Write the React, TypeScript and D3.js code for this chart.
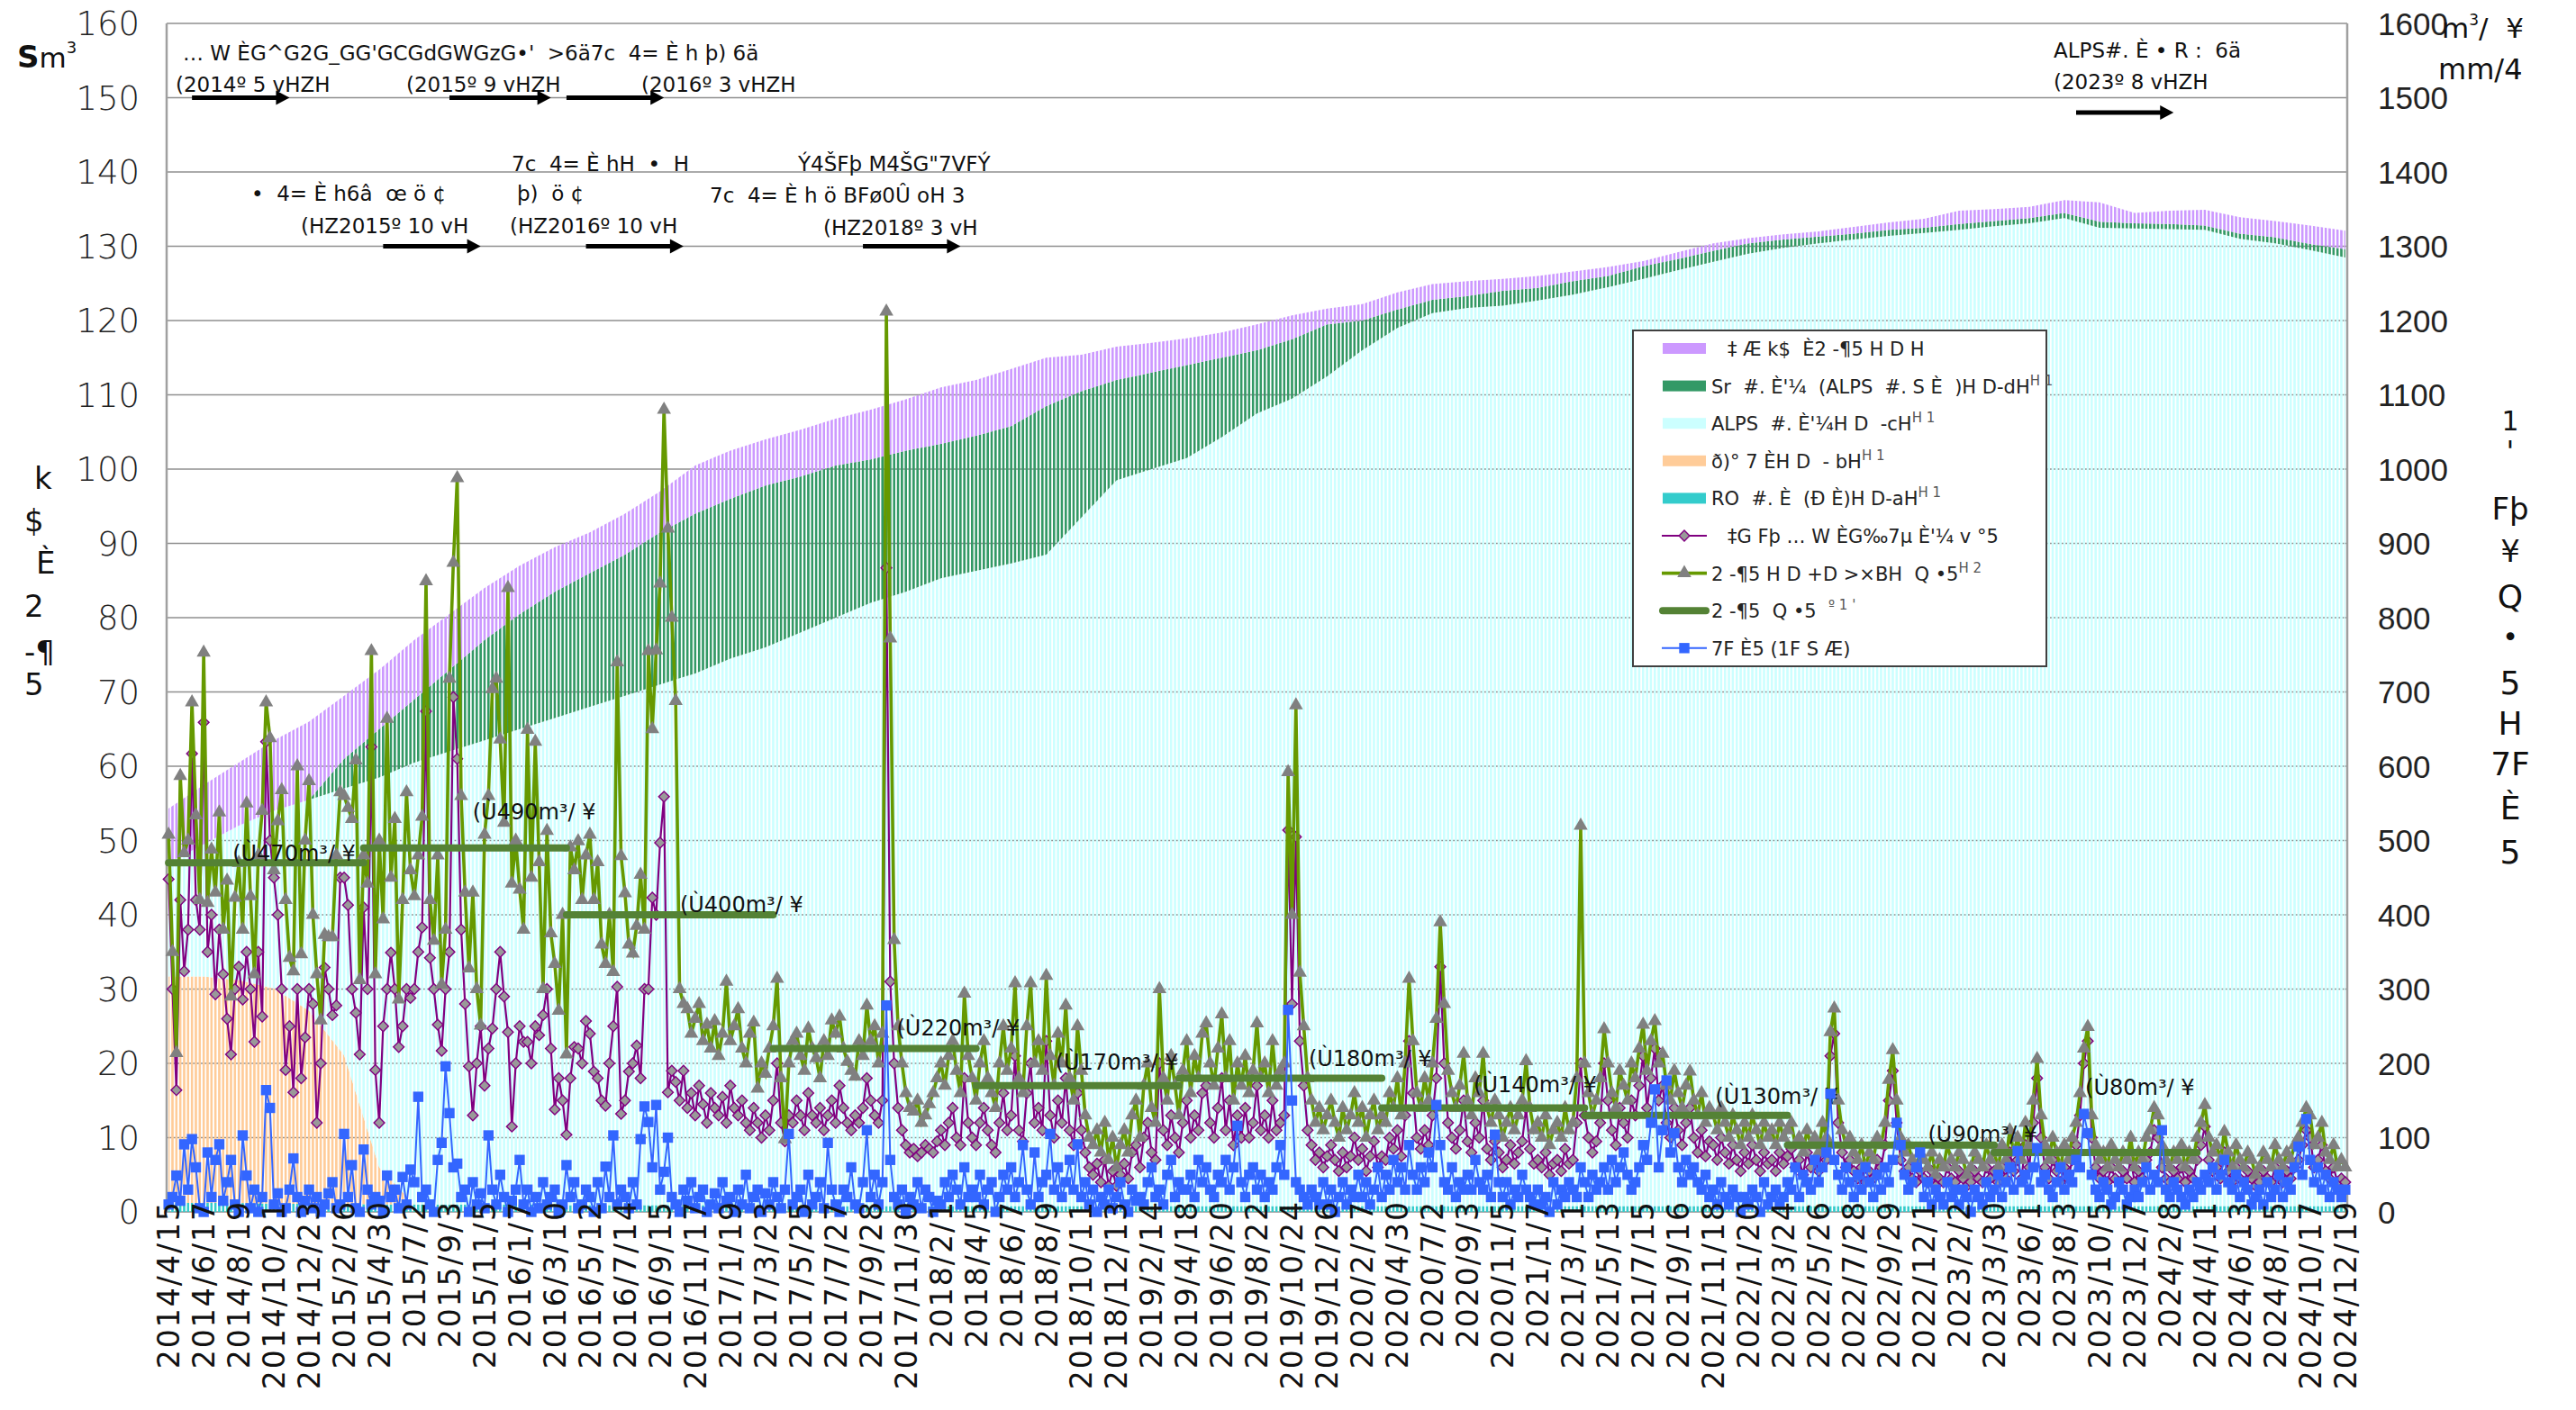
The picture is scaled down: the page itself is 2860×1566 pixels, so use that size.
import React, { useEffect, useRef } from 'react';
import * as d3 from 'd3';

// weekly categories, one axis label every 9 weeks
const tickLabels = [
  '2014/4/15', '2014/6/17', '2014/8/19', '2014/10/21', '2014/12/23', '2015/2/26', '2015/4/30', '2015/7/2',
  '2015/9/3', '2015/11/5', '2016/1/7', '2016/3/10', '2016/5/12', '2016/7/14', '2016/9/15', '2016/11/17',
  '2017/1/19', '2017/3/23', '2017/5/25', '2017/7/27', '2017/9/28', '2017/11/30', '2018/2/1', '2018/4/5',
  '2018/6/7', '2018/8/9', '2018/10/11', '2018/12/13', '2019/2/14', '2019/4/18', '2019/6/20', '2019/8/22',
  '2019/10/24', '2019/12/26', '2020/2/27', '2020/4/30', '2020/7/2', '2020/9/3', '2020/11/5', '2021/1/7',
  '2021/3/11', '2021/5/13', '2021/7/15', '2021/9/16', '2021/11/18', '2022/1/20', '2022/3/24', '2022/5/26',
  '2022/7/28', '2022/9/29', '2022/12/1', '2023/2/2', '2023/3/30', '2023/6/1', '2023/8/3', '2023/10/5',
  '2023/12/7', '2024/2/8', '2024/4/11', '2024/6/13', '2024/8/15', '2024/10/17', '2024/12/19',
];

// weekly, m3/day (right axis) - triangles
const generation = [
  508, 350, 214, 587, 483, 500, 686, 534, 420, 753, 416, 488, 430, 538, 380, 446, 290, 423,
  470, 380, 550, 425, 320, 480, 540, 686, 638, 460, 526, 568, 420, 342, 324, 600, 347, 500,
  580, 400, 320, 258, 373, 370, 370, 480, 565, 560, 544, 529, 608, 312, 480, 442, 755, 320,
  500, 394, 664, 450, 529, 286, 420, 565, 460, 425, 480, 532, 849, 420, 365, 480, 306, 380,
  718, 874, 988, 560, 430, 328, 430, 300, 251, 508, 560, 704, 718, 636, 524, 840, 442, 500,
  434, 380, 649, 450, 633, 471, 300, 513, 375, 334, 271, 400, 212, 491, 460, 499, 420, 480,
  508, 420, 471, 360, 334, 400, 323, 740, 479, 429, 360, 348, 385, 454, 380, 755, 650, 756,
  846, 1080, 920, 800, 688, 300, 280, 273, 240, 260, 280, 230, 252, 220, 257, 210, 240, 310,
  230, 250, 273, 220, 200, 240, 255, 166, 200, 186, 220, 250, 314, 180, 98, 200, 230, 240,
  210, 190, 247, 220, 207, 180, 230, 210, 258, 240, 263, 220, 202, 190, 182, 230, 210, 278,
  230, 250, 200, 240, 1212, 772, 366, 250, 200, 160, 140, 135, 150, 120, 130, 145, 160, 180,
  200, 170, 210, 230, 190, 160, 294, 210, 180, 150, 200, 230, 180, 160, 140, 200, 250, 190,
  220, 308, 180, 160, 250, 308, 200, 230, 190, 318, 210, 170, 240, 200, 278, 180, 150, 250,
  190, 130, 100, 90, 110, 80, 120, 70, 100, 60, 90, 110, 80, 130, 150, 100, 170, 200,
  140, 120, 300, 180, 150, 210, 170, 130, 190, 230, 160, 210, 180, 240, 254, 200, 170, 220,
  266, 180, 230, 150, 200, 170, 210, 160, 190, 254, 180, 200, 160, 230, 170, 190, 200, 592,
  400, 682, 322, 250, 180, 150, 120, 140, 110, 130, 150, 120, 100, 140, 110, 130, 160, 120,
  140, 100, 130, 150, 110, 130, 120, 160, 140, 180, 130, 200, 314, 230, 160, 140, 180, 150,
  200, 260, 390, 280, 190, 160, 140, 170, 213, 150, 130, 180, 160, 213, 140, 120, 150, 130,
  100, 120, 140, 110, 130, 150, 203, 140, 110, 120, 100, 130, 90, 110, 120, 100, 140, 110,
  120, 180, 520, 200, 160, 130, 150, 180, 246, 200, 160, 140, 190, 170, 150, 200, 180, 220,
  252, 190, 230, 257, 200, 213, 170, 150, 190, 160, 140, 170, 189, 150, 130, 160, 120, 140,
  130, 110, 140, 120, 100, 130, 110, 90, 120, 100, 130, 110, 90, 120, 100, 110, 90, 120,
  100, 110, 120, 90, 100, 80, 110, 90, 100, 80, 120, 100, 242, 274, 150, 110, 90, 100,
  80, 70, 90, 60, 80, 70, 100, 90, 120, 178, 218, 150, 100, 80, 90, 70, 60, 80,
  70, 60, 80, 50, 70, 60, 90, 70, 60, 80, 70, 50, 60, 80, 70, 60, 90, 70,
  80, 60, 90, 70, 110, 80, 100, 70, 120, 90, 150, 206, 130, 90, 70, 100, 80, 60,
  90, 70, 100, 120, 160, 220, 249, 130, 90, 70, 80, 60, 90, 70, 60, 80, 70, 100,
  60, 80, 70, 100, 110, 140, 130, 90, 70, 60, 80, 70, 90, 60, 80, 70, 100, 120,
  144, 100, 80, 90, 70, 108, 80, 60, 90, 70, 60, 80, 70, 50, 60, 80, 70, 60,
  90, 70, 60, 80, 70, 90, 100, 120, 140, 130, 90, 100, 120, 80, 70, 90, 60, 70,
  60,
];

// weekly, m3/day (right axis) - diamonds
const inflow = [
  448, 300, 164, 420, 324, 380, 617, 420, 380, 659, 350, 400, 293, 380, 320, 260, 212, 300,
  330, 286, 350, 300, 229, 350, 263, 633, 500, 450, 400, 300, 191, 250, 161, 300, 180, 235,
  300, 280, 120, 200, 329, 300, 265, 278, 450, 450, 413, 300, 268, 212, 410, 300, 626, 191,
  120, 250, 300, 349, 300, 222, 250, 300, 288, 300, 350, 383, 674, 342, 300, 252, 217, 300,
  350, 693, 610, 380, 280, 196, 130, 200, 250, 170, 220, 247, 300, 350, 290, 242, 115, 200,
  250, 229, 229, 200, 250, 238, 265, 300, 220, 138, 180, 150, 104, 180, 222, 220, 200, 257,
  240, 189, 180, 150, 143, 200, 250, 303, 132, 150, 189, 200, 224, 180, 300, 300, 423, 400,
  497, 559, 161, 190, 175, 150, 190, 140, 160, 130, 170, 145, 120, 160, 140, 130, 155, 120,
  170, 140, 130, 150, 120, 110, 140, 120, 100, 130, 110, 150, 200, 120, 95, 130, 120, 150,
  130, 110, 160, 130, 120, 140, 110, 130, 150, 120, 170, 140, 120, 110, 130, 120, 140, 180,
  150, 130, 120, 150, 867, 310, 200, 140, 110, 90, 80, 85, 75, 80, 90, 85, 80, 95,
  110, 90, 120, 140, 100, 90, 180, 120, 100, 90, 120, 140, 110, 90, 80, 120, 160, 110,
  130, 210, 110, 95, 160, 200, 120, 140, 110, 230, 130, 100, 150, 120, 180, 110, 90, 160,
  110, 80, 60, 50, 65, 40, 70, 35, 55, 35, 50, 65, 45, 80, 90, 60, 100, 120,
  80, 70, 200, 110, 90, 130, 100, 80, 120, 150, 100, 130, 110, 160, 170, 120, 100, 140,
  180, 110, 150, 90, 130, 100, 140, 100, 120, 170, 110, 130, 100, 150, 110, 120, 130, 514,
  280, 505, 230, 170, 110, 90, 70, 80, 60, 75, 90, 70, 55, 80, 60, 75, 100, 70,
  85, 55, 75, 95, 60, 75, 70, 100, 85, 110, 75, 130, 230, 160, 100, 85, 110, 90,
  130, 180, 330, 200, 120, 100, 85, 110, 150, 95, 80, 120, 100, 150, 85, 70, 95, 80,
  60, 70, 90, 65, 80, 95, 140, 85, 65, 70, 60, 80, 50, 65, 70, 55, 85, 65,
  70, 120, 200, 130, 100, 80, 95, 120, 200, 150, 110, 90, 140, 120, 100, 150, 130, 170,
  210, 140, 180, 220, 150, 170, 120, 100, 140, 110, 90, 120, 140, 100, 80, 110, 75, 95,
  90, 70, 100, 80, 65, 90, 70, 55, 80, 65, 90, 70, 55, 80, 65, 70, 55, 80,
  65, 75, 85, 60, 70, 50, 80, 60, 70, 55, 90, 70, 210, 240, 120, 80, 60, 70,
  55, 45, 60, 40, 55, 45, 70, 60, 90, 150, 190, 120, 70, 55, 60, 45, 40, 55,
  45, 40, 55, 35, 45, 40, 60, 45, 40, 55, 45, 35, 40, 55, 45, 40, 60, 45,
  55, 40, 60, 45, 80, 55, 70, 45, 90, 60, 120, 180, 100, 60, 45, 70, 55, 40,
  60, 45, 70, 90, 130, 200, 230, 100, 60, 45, 55, 40, 60, 45, 40, 55, 45, 70,
  40, 55, 45, 70, 80, 110, 100, 60, 45, 40, 55, 45, 60, 40, 55, 45, 70, 90,
  115, 70, 55, 60, 45, 80, 55, 40, 60, 45, 40, 55, 45, 35, 40, 55, 45, 40,
  60, 45, 40, 55, 45, 60, 70, 90, 110, 100, 60, 70, 90, 55, 45, 60, 40, 45,
  40,
];

// weekly, mm/week (right axis) - squares
const rainfall = [
  10, 20, 49, 15, 91, 30, 98, 60, 5, 0, 80, 20, 70, 91, 15, 40, 70, 10,
  0, 103, 49, 5, 30, 0, 20, 164, 140, 10, 25, 0, 5, 30, 72, 20, 0, 15,
  30, 5, 20, 0, 10, 25, 40, 5, 10, 105, 20, 63, 5, 0, 84, 30, 10, 20,
  15, 0, 49, 20, 30, 5, 47, 10, 57, 40, 155, 20, 30, 10, 0, 70, 93, 196,
  133, 60, 65, 20, 30, 0, 40, 10, 25, 5, 103, 30, 10, 50, 20, 0, 15, 30,
  70, 10, 30, 0, 20, 5, 40, 10, 20, 30, 0, 10, 63, 20, 40, 5, 10, 30,
  20, 0, 40, 5, 61, 20, 103, 10, 30, 20, 5, 40, 10, 98, 142, 121, 60, 144,
  30, 54, 100, 20, 10, 0, 30, 15, 40, 5, 20, 30, 0, 10, 25, 5, 40, 15,
  20, 0, 30, 10, 50, 5, 20, 30, 0, 25, 10, 40, 20, 5, 30, 105, 10, 20,
  30, 0, 50, 10, 20, 40, 5, 93, 30, 10, 0, 30, 20, 60, 10, 5, 40, 110,
  20, 50, 10, 40, 278, 70, 20, 10, 30, 0, 20, 10, 40, 5, 30, 20, 0, 15,
  10, 40, 20, 50, 30, 10, 60, 20, 30, 20, 50, 10, 30, 40, 0, 20, 50, 30,
  60, 20, 40, 90, 30, 10, 80, 20, 40, 50, 105, 30, 60, 20, 40, 70, 30, 91,
  20, 40, 10, 30, 0, 20, 10, 30, 5, 20, 40, 10, 0, 30, 15, 20, 10, 40,
  60, 20, 30, 10, 50, 70, 20, 40, 30, 30, 50, 20, 70, 40, 60, 30, 20, 50,
  40, 70, 30, 60, 116, 40, 20, 50, 60, 30, 50, 20, 40, 30, 60, 90, 50, 272,
  150, 40, 30, 20, 10, 30, 20, 10, 40, 10, 30, 0, 20, 40, 10, 30, 20, 50,
  20, 40, 10, 30, 60, 20, 50, 30, 70, 40, 60, 30, 90, 50, 30, 60, 40, 80,
  60, 144, 90, 40, 30, 60, 20, 40, 30, 50, 30, 70, 40, 30, 50, 20, 104, 40,
  20, 40, 10, 30, 20, 50, 30, 20, 10, 30, 10, 20, 0, 40, 10, 30, 20, 40,
  30, 20, 60, 40, 20, 50, 30, 40, 60, 30, 70, 40, 60, 80, 50, 30, 40, 60,
  90, 70, 120, 165, 60, 110, 177, 80, 106, 60, 40, 70, 50, 60, 40, 30, 50, 20,
  30, 10, 40, 20, 10, 30, 20, 0, 20, 10, 30, 20, 0, 40, 10, 20, 30, 10,
  20, 40, 30, 60, 20, 50, 40, 30, 70, 40, 60, 80, 159, 70, 50, 30, 60, 40,
  20, 50, 30, 60, 40, 20, 50, 30, 60, 40, 70, 120, 90, 50, 30, 40, 60, 80,
  20, 40, 10, 30, 20, 10, 40, 20, 30, 10, 30, 20, 0, 30, 20, 10, 40, 20,
  30, 50, 20, 40, 60, 30, 82, 40, 50, 30, 60, 86, 40, 50, 30, 20, 40, 60,
  30, 50, 40, 70, 60, 132, 106, 50, 30, 20, 40, 30, 10, 20, 40, 30, 10, 20,
  30, 20, 40, 60, 30, 50, 40, 110, 30, 20, 40, 30, 20, 10, 30, 20, 40, 30,
  50, 40, 60, 30, 50, 70, 40, 30, 50, 20, 40, 30, 10, 20, 30, 10, 40, 20,
  30, 50, 20, 40, 30, 60, 88, 50, 125, 70, 40, 60, 30, 50, 20, 40, 30, 20,
  30,
];

// tank storage, 10^4 m3 (left axis), one value at each labelled date
const roStock = [
  1.2, 1.2, 1.2, 1.1, 1.1, 1.1, 1.0, 1.0, 1.0, 1.0, 1.0, 0.9, 0.9, 0.9, 0.9, 0.9,
  0.9, 0.9, 0.8, 0.8, 0.8, 0.8, 0.8, 0.8, 0.8, 0.8, 0.8, 0.8, 0.8, 0.8, 0.8, 0.8,
  0.8, 0.8, 0.8, 0.8, 0.8, 0.8, 0.8, 0.8, 0.8, 0.8, 0.8, 0.8, 0.8, 0.8, 0.8, 0.8,
  0.8, 0.8, 0.8, 0.8, 0.8, 0.8, 0.8, 0.8, 0.8, 0.8, 0.8, 0.8, 0.8, 0.8, 0.8,
];
const brineStock = [
  30.5, 30.5, 30, 29, 26, 20, 5, 0, 0, 0, 0, 0, 0, 0, 0, 0,
  0, 0, 0, 0, 0, 0, 0, 0, 0, 0, 0, 0, 0, 0, 0, 0,
  0, 0, 0, 0, 0, 0, 0, 0, 0, 0, 0, 0, 0, 0, 0, 0,
  0, 0, 0, 0, 0, 0, 0, 0, 0, 0, 0, 0, 0, 0, 0,
];
const alpsStock = [
  15.3, 17.8, 20.8, 23.9, 28.4, 35.9, 52.5, 59.5, 61.0, 62.5, 64.0, 65.6, 67.1, 68.6, 70.1, 71.6,
  73.6, 75.1, 77.2, 79.2, 81.2, 82.7, 84.5, 85.5, 86.5, 87.7, 92.7, 97.7, 99.2, 100.7, 103.5, 106.7,
  108.7, 111.7, 115.2, 118.2, 120.2, 120.9, 121.2, 121.9, 122.7, 123.7, 124.8, 126, 127.1, 128.2, 129, 129.6,
  130.1, 130.6, 131, 131.4, 131.9, 132.3, 133, 131.7, 131.6, 131.5, 131.4, 130.2, 129.6, 128.7, 127.7,
];
const srStock = [
  0, 0, 0, 0, 0, 4, 6.5, 8.5, 11, 13.5, 15.5, 17, 18, 19, 20.5, 21.5,
  21.5, 21.8, 21, 20.5, 19.3, 19, 18.1, 18.2, 18.5, 20, 17, 13.5, 13, 12.5, 10.7, 8.5,
  8, 7, 4, 2.5, 1.8, 1.6, 2, 1.7, 1.8, 1.5, 1.7, 1.5, 1.5, 1.4, 1.1, 0.9,
  0.8, 0.8, 0.7, 0.8, 0.7, 0.7, 0.7, 0.8, 0.7, 0.7, 0.6, 0.7, 0.8, 0.8, 1.1,
];
const otherStock = [
  7.3, 8, 8.5, 9.5, 10.5, 8.5, 8, 8, 7.5, 7, 6.5, 6, 5.5, 5.5, 5.5, 6.5,
  6.5, 6.2, 6.3, 6.3, 6.7, 6.9, 7.6, 7.5, 7.7, 6.5, 4.9, 4.5, 4, 3.6, 3.4, 3.5,
  3.2, 2.1, 2.2, 2.3, 2.1, 2, 1.6, 1.6, 1.3, 1.2, 0.7, 0.9, 1, 0.7, 0.7, 0.7,
  0.9, 1, 1.2, 1.8, 1.6, 1.5, 1.7, 2.6, 1.4, 1.8, 2.1, 2.2, 2.2, 2.5, 2.5,
];

// fiscal-year averages (week index range), m3/day
const fyFrom = [0, 50, 102, 155, 207, 259, 311, 363, 415, 468];
const fyTo = [50, 102, 155, 207, 259, 311, 363, 415, 468, 520];
const fyAvg = [470, 490, 400, 220, 170, 180, 140, 130, 90, 80];

const legendLabels = [
  ['‡ Æ k$  È2 -¶5 H D H', ''],
  ["Sr  #. È'¼  (ALPS  #. S È  )H D-dH", 'H 1'],
  ["ALPS  #. È'¼H D  -cH", 'H 1'],
  ['ð)° 7 ÈH D  - bH', 'H 1'],
  ['RO  #. È  (Ð È)H D-aH', 'H 1'],
  ["‡G Fþ … W ÈG‰7µ È'¼ v °5", ''],
  ['2 -¶5 H D +D >×BH  Q •5', 'H 2'],
  ['2 -¶5  Q •5  ', "º 1 '"],
  ['7F È5 (1F S Æ)', ''],
];

const FONT = 'DejaVu Sans, Verdana, sans-serif';

export default function App() {
  const svgRef = useRef<SVGSVGElement>(null);

  useEffect(() => {
    const svg = d3.select(svgRef.current);
    svg.selectAll('*').remove();

    const left = 185, right = 2606, top = 26, bottom = 1346;
    const n = generation.length;
    const x = d3.scaleBand<number>().domain(d3.range(n)).range([left, right]);
    const bw = x.bandwidth();
    const cx = (i: number) => (x(i) as number) + bw / 2;
    const yL = d3.scaleLinear().domain([0, 160]).range([bottom, top]);
    const yR = d3.scaleLinear().domain([0, 1600]).range([bottom, top]);

    svg.append('rect').attr('width', 2860).attr('height', 1566).attr('fill', '#fff');

    // grid lines
    svg.append('g')
      .selectAll('line')
      .data(yL.ticks(16))
      .join('line')
      .attr('x1', left).attr('x2', right)
      .attr('y1', d => yL(d)).attr('y2', d => yL(d))
      .attr('stroke', '#8f8f8f').attr('stroke-width', 1.6);

    // stacked storage (thin weekly bars -> striped fill)
    const keys = ['ro', 'brine', 'alps', 'sr', 'other'];
    const colors: Record<string, string> = {
      ro: '#33CCCC', brine: '#FFCC99', alps: '#CCFFFF', sr: '#339966', other: '#CC99FF',
    };
    const rows = tickLabels.map((_, s) => ({
      ro: roStock[s], brine: brineStock[s], alps: alpsStock[s], sr: srStock[s], other: otherStock[s],
    }));
    const layers = d3.stack<any>().keys(keys)(rows);
    const defs = svg.append('defs');
    keys.forEach(k => {
      const p = defs.append('pattern')
        .attr('id', 'pat-' + k)
        .attr('patternUnits', 'userSpaceOnUse')
        .attr('x', left + bw * 0.2).attr('y', 0)
        .attr('width', bw).attr('height', 20);
      p.append('rect').attr('width', bw * 0.6).attr('height', 20).attr('fill', colors[k]);
    });
    const stockArea = d3.area<any>()
      .x((_, s) => cx(s * 9))
      .y0(d => yL(d[0]))
      .y1(d => yL(d[1]));
    svg.append('g')
      .selectAll('path')
      .data(layers)
      .join('path')
      .attr('d', d => stockArea(d as any))
      .attr('fill', d => `url(#pat-${d.key})`);

    // frame
    svg.append('line').attr('x1', left).attr('x2', left).attr('y1', top).attr('y2', bottom)
      .attr('stroke', '#a0a0a0').attr('stroke-width', 2.5);
    svg.append('line').attr('x1', right).attr('x2', right).attr('y1', top).attr('y2', bottom)
      .attr('stroke', '#a0a0a0').attr('stroke-width', 2.5);

    const lineR = d3.line<number>().x((_, i) => cx(i)).y(d => yR(d));

    // inflow: purple line with grey diamonds
    svg.append('path').attr('d', lineR(inflow)).attr('fill', 'none')
      .attr('stroke', '#800080').attr('stroke-width', 2.2);
    const diamond = d3.symbol().type(d3.symbolSquare).size(70)();
    svg.append('g').selectAll('path').data(inflow).join('path')
      .attr('d', diamond)
      .attr('transform', (d, i) => `translate(${cx(i)},${yR(d)}) rotate(45)`)
      .attr('fill', '#999999').attr('stroke', '#800080').attr('stroke-width', 1.4);

    // generation: green line with grey triangles
    svg.append('path').attr('d', lineR(generation)).attr('fill', 'none')
      .attr('stroke', '#669900').attr('stroke-width', 3.6);
    const tri = d3.symbol().type(d3.symbolTriangle).size(105)();
    svg.append('g').selectAll('path').data(generation).join('path')
      .attr('d', tri)
      .attr('transform', (d, i) => `translate(${cx(i)},${yR(d)})`)
      .attr('fill', '#808080');

    // fiscal-year averages
    const avgLine = d3.line<number[]>().x(d => cx(d[0])).y(d => yR(d[1]));
    svg.append('g').selectAll('path').data(fyAvg).join('path')
      .attr('d', (v, i) => avgLine([[fyFrom[i], v], [fyTo[i], v]]))
      .attr('stroke', '#548235').attr('stroke-width', 8).attr('stroke-linecap', 'round').attr('fill', 'none');
    const avgLabelOffset = [[71, -2], [121, -32], [126, -3], [137, -15], [88, -18],
      [144, -14], [102, -18], [145, -13], [156, -4], [101, -64]];
    svg.append('g').selectAll('text').data(fyAvg).join('text')
      .attr('x', (v, i) => cx(fyFrom[i]) + avgLabelOffset[i][0])
      .attr('y', (v, i) => yR(v) + avgLabelOffset[i][1])
      .attr('font-family', FONT).attr('font-size', 24).attr('fill', '#111')
      .style('white-space', 'pre')
      .text(v => `(Ù${v}m³/ ¥`);

    // rainfall: blue line with squares
    svg.append('path').attr('d', lineR(rainfall)).attr('fill', 'none')
      .attr('stroke', '#3366FF').attr('stroke-width', 2);
    const sq = d3.symbol().type(d3.symbolSquare).size(130)();
    svg.append('g').selectAll('path').data(rainfall).join('path')
      .attr('d', sq)
      .attr('transform', (d, i) => `translate(${cx(i)},${yR(d)})`)
      .attr('fill', '#3366FF');

    // left axis labels
    svg.append('g').selectAll('text').data(yL.ticks(16)).join('text')
      .attr('x', 155).attr('y', d => yL(d)).attr('dy', '0.36em')
      .attr('text-anchor', 'end').attr('font-family', FONT).attr('font-size', 37)
      .attr('font-weight', 300).attr('fill', '#222')
      .text(d => d);
    // right axis labels
    svg.append('g').selectAll('text').data(yR.ticks(16)).join('text')
      .attr('x', 2640).attr('y', d => yR(d)).attr('dy', '0.36em')
      .attr('font-family', 'Liberation Sans, Arial, sans-serif').attr('font-size', 35)
      .attr('fill', '#222')
      .text(d => d);

    // category labels
    svg.append('g').selectAll('text').data(tickLabels).join('text')
      .attr('transform', (d, k) => `translate(${cx(k * 9)},1333) rotate(-90)`)
      .attr('dy', '0.36em').attr('text-anchor', 'end')
      .attr('font-family', FONT).attr('font-size', 33).attr('letter-spacing', 2)
      .attr('fill', '#111')
      .text(d => d);

    // axis titles
    const t1 = svg.append('text').attr('x', 19).attr('y', 75).attr('font-family', FONT).attr('fill', '#111');
    t1.append('tspan').attr('font-size', 34).attr('font-weight', 'bold').text('S');
    t1.append('tspan').attr('font-size', 31).text('m');
    t1.append('tspan').attr('font-size', 18).attr('dy', -16).text('3');

    const t2 = svg.append('text').attr('x', 2711).attr('y', 42).attr('font-family', FONT).attr('fill', '#111');
    t2.append('tspan').attr('font-size', 31).text('m');
    t2.append('tspan').attr('font-size', 17).attr('dy', -14).text('3');
    t2.append('tspan').attr('font-size', 31).attr('dy', 14).style('white-space', 'pre').text('/  ¥');
    svg.append('text').attr('x', 2707).attr('y', 88).attr('font-family', FONT).attr('font-size', 32)
      .attr('fill', '#111').text('mm/4');

    const leftTitle = [['k', 38, 543], ['$', 27, 590], ['È', 40, 637], ['2', 27, 685], ['-¶', 27, 736], ['5', 27, 772]];
    svg.append('g').selectAll('text').data(leftTitle).join('text')
      .attr('x', d => d[1] as number).attr('y', d => d[2] as number)
      .attr('font-family', FONT).attr('font-size', 34).attr('fill', '#111')
      .text(d => d[0] as string);
    const rightTitle = [['1', 478, 30], ["'", 512, 32], ['Fþ', 577, 34], ['¥', 624, 34], ['Q', 675, 36],
      ['•', 718, 30], ['5', 771, 36], ['H', 816, 36], ['7F', 861, 36], ['È', 910, 36], ['5', 959, 36]];
    svg.append('g').selectAll('text').data(rightTitle).join('text')
      .attr('x', 2787).attr('y', d => d[1] as number).attr('text-anchor', 'middle')
      .attr('font-family', FONT).attr('font-size', d => d[2] as number).attr('fill', '#111')
      .text(d => d[0] as string);

    // annotations
    const notes: [string, number, number][] = [
      ["… W ÈG^G2G_GG'GCGdGWGzG•'  >6ä7c  4= È h þ) 6ä", 203, 67],
      ['(2014º 5 vHZH', 195, 102],
      ['(2015º 9 vHZH', 451, 102],
      ['(2016º 3 vHZH', 712, 102],
      ['7c  4= È hH  •  H', 568, 190],
      ['Ý4ŠFþ M4ŠG"7VFÝ', 886, 190],
      ['•  4= È h6â  œ ö ¢', 279, 223],
      ['þ)  ö ¢', 574, 223],
      ['7c  4= È h ö BFø0Û oH 3', 788, 225],
      ['(HZ2015º 10 vH', 334, 259],
      ['(HZ2016º 10 vH', 566, 259],
      ['(HZ2018º 3 vH', 914, 261],
      ['ALPS#. È • R :  6ä', 2280, 64],
      ['(2023º 8 vHZH', 2280, 99],
    ];
    svg.append('g').selectAll('text').data(notes).join('text')
      .attr('x', d => d[1]).attr('y', d => d[2])
      .attr('font-family', FONT).attr('font-size', 23).attr('fill', '#111')
      .style('white-space', 'pre')
      .text(d => d[0]);

    const arrows: [number, number, number][] = [
      [6, 31, 150], [72, 98, 150], [102, 127, 150],
      [55, 80, 130], [107, 132, 130], [178, 203, 130], [489, 514, 148],
    ];
    const ag = svg.append('g');
    arrows.forEach(([a, b, v]) => {
      const x1 = cx(a), x2 = cx(b), yy = yL(v);
      ag.append('line').attr('x1', x1).attr('x2', x2 - 12).attr('y1', yy).attr('y2', yy)
        .attr('stroke', '#000').attr('stroke-width', 5);
      ag.append('path').attr('d', `M${x2},${yy} L${x2 - 15},${yy - 8} L${x2 - 15},${yy + 8} Z`).attr('fill', '#000');
    });

    // legend
    const lg = svg.append('g');
    lg.append('rect').attr('x', 1813).attr('y', 367).attr('width', 459).attr('height', 373)
      .attr('fill', '#fff').attr('stroke', '#404040').attr('stroke-width', 2);
    const rowY = (i: number) => 387 + i * 41.6;
    ['other', 'sr', 'alps', 'brine', 'ro'].forEach((k, i) => {
      lg.append('rect').attr('x', 1846).attr('y', rowY(i) - 6).attr('width', 48).attr('height', 12)
        .attr('fill', colors[k]);
    });
    lg.append('line').attr('x1', 1845).attr('x2', 1895).attr('y1', rowY(5)).attr('y2', rowY(5))
      .attr('stroke', '#800080').attr('stroke-width', 2.2);
    lg.append('path').attr('d', diamond).attr('transform', `translate(1870,${rowY(5)}) rotate(45)`)
      .attr('fill', '#999').attr('stroke', '#800080').attr('stroke-width', 1.4);
    lg.append('line').attr('x1', 1845).attr('x2', 1895).attr('y1', rowY(6)).attr('y2', rowY(6))
      .attr('stroke', '#669900').attr('stroke-width', 3.6);
    lg.append('path').attr('d', tri).attr('transform', `translate(1870,${rowY(6)})`).attr('fill', '#808080');
    lg.append('line').attr('x1', 1846).attr('x2', 1894).attr('y1', rowY(7)).attr('y2', rowY(7))
      .attr('stroke', '#548235').attr('stroke-width', 8).attr('stroke-linecap', 'round');
    lg.append('line').attr('x1', 1845).attr('x2', 1895).attr('y1', rowY(8)).attr('y2', rowY(8))
      .attr('stroke', '#3366FF').attr('stroke-width', 2);
    lg.append('path').attr('d', sq).attr('transform', `translate(1870,${rowY(8)})`).attr('fill', '#3366FF');

    legendLabels.forEach(([main, sup], i) => {
      const tx = lg.append('text')
        .attr('x', i === 0 || i === 5 ? 1918 : 1900).attr('y', rowY(i) + 8)
        .attr('font-family', FONT).attr('font-size', 21).attr('fill', '#222')
        .style('white-space', 'pre');
      tx.append('tspan').text(main);
      if (sup) tx.append('tspan').attr('font-size', 15).attr('dy', -9).attr('fill', '#555').text(sup);
    });
  }, []);

  return (
    <svg ref={svgRef} width={2860} height={1566}
      style={{ position: 'absolute', left: 0, top: 0, display: 'block' }} />
  );
}
